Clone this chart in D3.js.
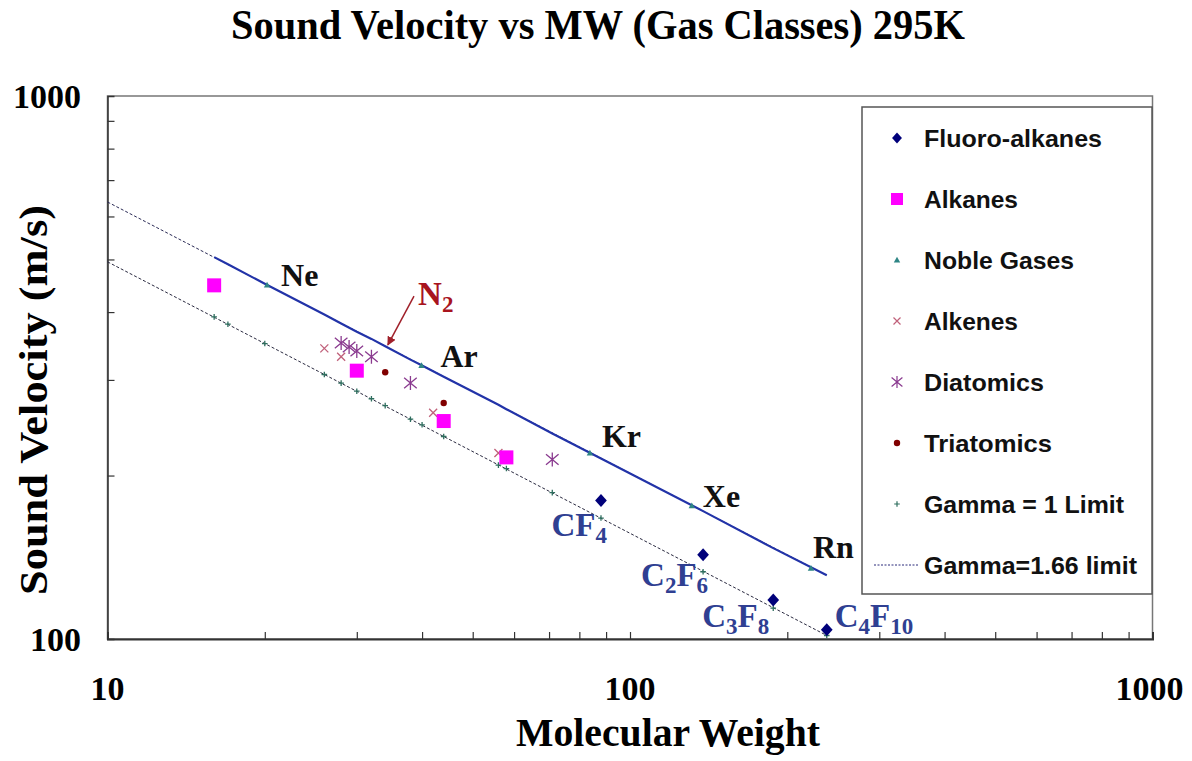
<!DOCTYPE html>
<html>
<head>
<meta charset="utf-8">
<script src="https://cdn.jsdelivr.net/npm/d3@7"></script>
<style>
  html, body { margin: 0; padding: 0; background: #fff; }
  svg { display: block; }
</style>
</head>
<body>
<svg id="chart" width="1192" height="761"></svg>
<script>
// ---------------- DATA ----------------
const fluoroMW   = [88, 138, 188, 238];
const fluoroV    = [180, 143, 118, 104];
const fluoroLbl  = [["CF","4"], ["C","2","F","6"], ["C","3","F","8"], ["C","4","F","10"]];

const alkaneMW   = [16, 30, 44, 58];
const alkaneV    = [448, 312, 252, 216];

const nobleMW    = [20.2, 39.9, 83.8, 131.3, 222];
const nobleV     = [449, 319, 220, 176, 135];
const nobleLbl   = ["Ne", "Ar", "Kr", "Xe", "Rn"];

const alkeneMW   = [26, 28, 42, 56];
const alkeneV    = [343, 331, 261, 220];

const diatomicMW = [28, 29, 30, 32, 38, 71];
const diatomicV  = [351, 345, 339, 331, 296, 214];

const triatomicMW = [34, 44];
const triatomicV  = [310, 272];

const gammaMW    = [16, 17, 20, 26, 28, 30, 32, 34, 38, 40, 44, 56, 58, 71, 88, 138, 188, 238];
const gamma1V    = [392, 380, 350, 307, 296, 286, 277, 269, 254, 248, 236, 209, 206, 186, 167, 133, 114, 101.5];
const gamma166V  = [505, 490, 451, 396, 381, 368, 357, 346, 327, 319, 304, 270, 265, 239, 215, 172, 147, 131];

const trendMW    = [10, 238];
const trend1V    = [495, 101.5];
const trend166V  = [638, 131];

const xTicksMajor = [10, 100, 1000];
const yTicksMajor = [100, 1000];

const legendNames = ["Fluoro-alkanes", "Alkanes", "Noble Gases", "Alkenes", "Diatomics", "Triatomics", "Gamma = 1 Limit", "Gamma=1.66 limit"];

// ---------------- LAYOUT ----------------
const svg = d3.select("#chart");
const L = 107.5, R = 1152.5, T = 96, B = 639;
const x = d3.scaleLog().domain([10, 1000]).range([L, R]);
const y = d3.scaleLog().domain([100, 1000]).range([B, T]);
const serif = "'Liberation Serif','Times New Roman',serif";
const sans = "'Liberation Sans',Arial,sans-serif";

// Title
svg.append("text").attr("x", 598).attr("y", 39).attr("text-anchor", "middle")
  .attr("font-family", serif).attr("font-weight", "bold").attr("font-size", 42)
  .attr("textLength", 734).attr("lengthAdjust", "spacingAndGlyphs")
  .text("Sound Velocity vs MW (Gas Classes) 295K");

// Axis titles
svg.append("text").attr("x", 668).attr("y", 746).attr("text-anchor", "middle")
  .attr("font-family", serif).attr("font-weight", "bold").attr("font-size", 39)
  .attr("textLength", 304).attr("lengthAdjust", "spacingAndGlyphs")
  .text("Molecular Weight");
svg.append("text").attr("transform", "translate(47,400) rotate(-90)").attr("text-anchor", "middle")
  .attr("font-family", serif).attr("font-weight", "bold").attr("font-size", 41)
  .attr("textLength", 390).attr("lengthAdjust", "spacingAndGlyphs")
  .text("Sound Velocity (m/s)");

// Frame
svg.append("rect").attr("x", L).attr("y", T).attr("width", R - L).attr("height", B - T)
  .attr("fill", "none").attr("stroke", "#777").attr("stroke-width", 1.5);

// Axes with inward minor ticks (labels drawn separately)
const xMinor = x.ticks().filter(v => xTicksMajor.indexOf(v) < 0 || v === 100);
const gx = svg.append("g").attr("transform", `translate(0,${B})`)
  .call(d3.axisTop(x).tickValues(xMinor).tickSize(7).tickFormat(""));
gx.select(".domain").attr("stroke", "#333").attr("stroke-width", 2);
gx.selectAll(".tick line").attr("stroke", "#333").attr("stroke-width", 1.2);

const yMinor = y.ticks().filter(v => yTicksMajor.indexOf(v) < 0);
const gy = svg.append("g").attr("transform", `translate(${L},0)`)
  .call(d3.axisRight(y).tickValues(yMinor).tickSize(7).tickFormat(""));
gy.select(".domain").attr("stroke", "#333").attr("stroke-width", 1.5);
gy.selectAll(".tick line").attr("stroke", "#333").attr("stroke-width", 1.2);

// Tick labels
svg.selectAll(".xl").data(xTicksMajor).enter().append("text")
  .attr("x", d => d === 1000 ? x(d) - 3 : x(d)).attr("y", 700).attr("text-anchor", "middle")
  .attr("font-family", serif).attr("font-weight", "bold").attr("font-size", 34)
  .text(d => d);
svg.selectAll(".yl").data(yTicksMajor).enter().append("text")
  .attr("x", 81).attr("y", d => y(d) + 12).attr("text-anchor", "end")
  .attr("font-family", serif).attr("font-weight", "bold").attr("font-size", 34)
  .text(d => d);

// ---------------- LINES ----------------
const line = d3.line().x(d => x(d[0])).y(d => y(d[1]));
svg.append("path").datum(trendMW.map((m, i) => [m, trend166V[i]])).attr("d", line)
  .attr("fill", "none").attr("stroke", "#2a2a55").attr("stroke-width", 1).attr("stroke-dasharray", "3,2");
svg.append("path").datum(gammaMW.map((m, i) => [m, gamma166V[i]])).attr("d", line)
  .attr("fill", "none").attr("stroke", "#2233a8").attr("stroke-width", 2.2);
svg.append("path").datum(trendMW.map((m, i) => [m, trend1V[i]])).attr("d", line)
  .attr("fill", "none").attr("stroke", "#2a2a40").attr("stroke-width", 1).attr("stroke-dasharray", "3,2");

// ---------------- MARKERS ----------------
const shapes = {
  diamond: s => `M0,${-s}L${s * 0.9},0L0,${s}L${-s * 0.9},0Z`,
  square: s => `M${-s},${-s}H${s}V${s}H${-s}Z`,
  triangle: s => `M0,${-s}L${s},${s * 0.8}L${-s},${s * 0.8}Z`,
  cross: s => `M${-s},${-s}L${s},${s}M${-s},${s}L${s},${-s}`,
  asterisk: s => `M${-s * 0.9},${-s * 0.75}L${s * 0.9},${s * 0.75}M${-s * 0.9},${s * 0.75}L${s * 0.9},${-s * 0.75}M0,${-s}V${s}`,
  circle: s => `M${-s},0A${s},${s} 0 1,0 ${s},0A${s},${s} 0 1,0 ${-s},0Z`,
  plus: s => `M${-s},0H${s}M0,${-s}V${s}`
};
const styles = [
  {shape: "diamond", size: 6.5, fill: "#00007a", stroke: "none", lsize: 5.5},
  {shape: "square", size: 7, fill: "#ff00ff", stroke: "none", lsize: 6},
  {shape: "triangle", size: 3.2, fill: "#2e8585", stroke: "none", lsize: 3.2},
  {shape: "cross", size: 4, fill: "none", stroke: "#c0607a", lsize: 3.5},
  {shape: "asterisk", size: 7, fill: "none", stroke: "#8a3a8f", lsize: 6},
  {shape: "circle", size: 3.2, fill: "#800000", stroke: "none", lsize: 3.2},
  {shape: "plus", size: 2.8, fill: "none", stroke: "#2e6e5e", lsize: 2.8}
];
function drawSeries(mw, v, st) {
  svg.append("g").selectAll("path").data(mw.map((m, i) => [m, v[i]])).enter().append("path")
    .attr("transform", d => `translate(${x(d[0])},${y(d[1])})`)
    .attr("d", shapes[st.shape](st.size))
    .attr("fill", st.fill).attr("stroke", st.stroke).attr("stroke-width", 1.3);
}
drawSeries(gammaMW, gamma1V, styles[6]);
drawSeries(nobleMW, nobleV, styles[2]);
drawSeries(alkeneMW, alkeneV, styles[3]);
drawSeries(diatomicMW, diatomicV, styles[4]);
drawSeries(triatomicMW, triatomicV, styles[5]);
drawSeries(alkaneMW, alkaneV, styles[1]);
drawSeries(fluoroMW, fluoroV, styles[0]);

// ---------------- ANNOTATIONS ----------------
const nobleOff = [[14, 1], [19, 2], [12, -6], [11, 1], [2, -10]];
nobleLbl.forEach((t, i) => {
  svg.append("text").attr("x", x(nobleMW[i]) + nobleOff[i][0]).attr("y", y(nobleV[i]) + nobleOff[i][1])
    .attr("font-family", serif).attr("font-weight", "bold").attr("font-size", 32).attr("fill", "#111")
    .text(t);
});

const fluoroOff = [[6, 36, "end"], [5, 31, "end"], [-4, 27, "end"], [8, -3, "start"]];
fluoroLbl.forEach((parts, i) => {
  const t = svg.append("text").attr("x", x(fluoroMW[i]) + fluoroOff[i][0]).attr("y", y(fluoroV[i]) + fluoroOff[i][1])
    .attr("text-anchor", fluoroOff[i][2])
    .attr("font-family", serif).attr("font-weight", "bold").attr("font-size", 33).attr("fill", "#2f3f92");
  parts.forEach((p, j) => {
    const sub = /^\d+$/.test(p);
    t.append("tspan").attr("font-size", sub ? 23 : 33).attr("dy", sub ? 7 : (j > 0 ? -7 : 0)).text(p);
  });
});

// N2 annotation with arrow
const n2Label = [39.3, 412], n2Tail = [38.6, 428], n2Tip = [34.4, 348];
svg.append("defs").append("marker").attr("id", "arr").attr("viewBox", "0 0 10 10")
  .attr("refX", 9).attr("refY", 5).attr("markerWidth", 9).attr("markerHeight", 9).attr("orient", "auto")
  .attr("markerUnits", "userSpaceOnUse")
  .append("path").attr("d", "M0,0L10,5L0,10Z").attr("fill", "#a0202a");
svg.append("line").attr("x1", x(n2Tail[0])).attr("y1", y(n2Tail[1])).attr("x2", x(n2Tip[0])).attr("y2", y(n2Tip[1]))
  .attr("stroke", "#a0202a").attr("stroke-width", 1.5).attr("marker-end", "url(#arr)");
const n2 = svg.append("text").attr("x", x(n2Label[0])).attr("y", y(n2Label[1]))
  .attr("font-family", serif).attr("font-weight", "bold").attr("font-size", 33).attr("fill", "#a8141e");
n2.append("tspan").text("N");
n2.append("tspan").attr("font-size", 23).attr("dy", 7).text("2");

// ---------------- LEGEND ----------------
const lg = svg.append("g");
lg.append("rect").attr("x", 862).attr("y", 107).attr("width", 290).attr("height", 487)
  .attr("fill", "#fff").attr("stroke", "#555").attr("stroke-width", 1.5);
const rowY = d3.scaleLinear().domain([0, 7]).range([138, 565]);
legendNames.forEach((name, i) => {
  const cy = rowY(i);
  if (i < 7) {
    const st = styles[i];
    lg.append("path").attr("transform", `translate(897,${cy})`).attr("d", shapes[st.shape](st.lsize))
      .attr("fill", st.fill).attr("stroke", st.stroke).attr("stroke-width", 1.2);
  } else {
    lg.append("line").attr("x1", 874).attr("x2", 918).attr("y1", cy).attr("y2", cy)
      .attr("stroke", "#2a2a7a").attr("stroke-width", 1).attr("stroke-dasharray", "2,1.5");
  }
  const tw = [178, 94, 150, 94, 120, 128, 200, 213][i];
  lg.append("text").attr("x", 924).attr("y", cy + 8.5)
    .attr("font-family", sans).attr("font-weight", "bold").attr("font-size", 24).attr("fill", "#111")
    .attr("textLength", tw).attr("lengthAdjust", "spacingAndGlyphs")
    .text(name);
});
</script>
</body>
</html>
